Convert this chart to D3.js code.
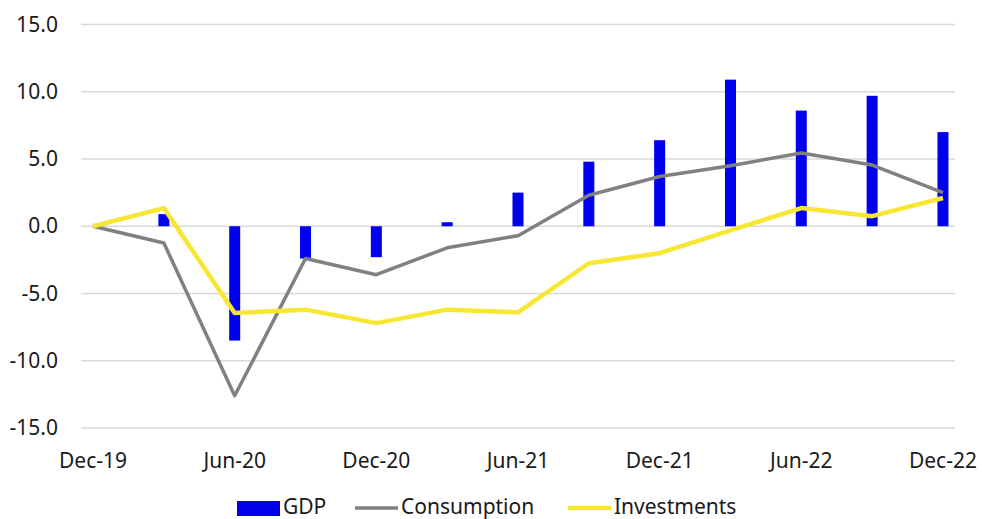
<!DOCTYPE html>
<html>
<head>
<meta charset="utf-8">
<script src="https://cdn.jsdelivr.net/npm/d3@7"></script>
<style>
  body { margin: 0; background: #fff; }
  text { font-family: "Noto Sans", sans-serif; fill: #1a1a1a; }
</style>
</head>
<body>
<svg id="chart" width="982" height="519"></svg>
<script>
// quarterly periods
var periods = ["Dec-19", "Mar-20", "Jun-20", "Sep-20", "Dec-20", "Mar-21", "Jun-21",
               "Sep-21", "Dec-21", "Mar-22", "Jun-22", "Sep-22", "Dec-22"];
var gdp = [0, 0.9, -8.5, -2.4, -2.3, 0.3, 2.5, 4.8, 6.4, 10.9, 8.6, 9.7, 7.0];
var consumption = [0, -1.25, -12.6, -2.4, -3.6, -1.6, -0.7, 2.3, 3.7, 4.5, 5.45, 4.55, 2.5];
var investments = [0, 1.35, -6.45, -6.2, -7.2, -6.2, -6.4, -2.75, -2.0, -0.3, 1.35, 0.75, 2.1];
var yTicks = [-15, -10, -5, 0, 5, 10, 15];
var xLabels = ["Dec-19", "Jun-20", "Dec-20", "Jun-21", "Dec-21", "Jun-22", "Dec-22"];

var svg = d3.select("#chart");
var plotLeft = 81, plotRight = 955, plotTop = 24.5, plotBottom = 428;

// x: index scale with a small pad on both sides
var xScale = d3.scaleLinear().domain([-0.17, periods.length - 1 + 0.17]).range([plotLeft, plotRight]);
var yScale = d3.scaleLinear().domain([-15, 15]).range([plotBottom, plotTop]);

// gridlines
svg.append("g").selectAll("line")
  .data(yTicks)
  .join("line")
  .attr("x1", plotLeft).attr("x2", plotRight)
  .attr("y1", d => yScale(d)).attr("y2", d => yScale(d))
  .attr("stroke", "#d9d9d9")
  .attr("stroke-width", 1.5);

// y axis labels (plain hyphen for negatives, like the source)
var yAxis = d3.axisLeft(yScale).tickValues(yTicks)
  .tickFormat(d => d.toFixed(1)).tickSize(0).tickPadding(0);
var gy = svg.append("g").attr("transform", "translate(58,0)").call(yAxis);
gy.select(".domain").remove();
gy.selectAll("text").style("font-size", "21px").attr("fill", "#1a1a1a").attr("font-family", "Noto Sans");

// x axis labels
svg.append("g").selectAll("text")
  .data(xLabels)
  .join("text")
  .attr("x", d => xScale(periods.indexOf(d)))
  .attr("y", 468)
  .attr("text-anchor", "middle")
  .style("font-size", "21px")
  .text(d => d);

// GDP bars
var barW = 11;
svg.append("g").selectAll("rect")
  .data(gdp)
  .join("rect")
  .attr("x", (d, i) => xScale(i) - barW / 2)
  .attr("width", barW)
  .attr("y", d => yScale(Math.max(d, 0)))
  .attr("height", d => Math.abs(yScale(d) - yScale(0)))
  .attr("fill", "#0000ee");

var line = d3.line().x((d, i) => xScale(i)).y(d => yScale(d));

svg.append("path")
  .datum(consumption)
  .attr("d", line)
  .attr("fill", "none")
  .attr("stroke", "#808080")
  .attr("stroke-width", 3.5)
  .attr("stroke-linejoin", "round");

svg.append("path")
  .datum(investments)
  .attr("d", line)
  .attr("fill", "none")
  .attr("stroke", "#f7e733")
  .attr("stroke-width", 4.5)
  .attr("stroke-linejoin", "round");

// legend
var lg = svg.append("g");
lg.append("rect").attr("x", 237).attr("y", 501).attr("width", 43).attr("height", 15).attr("fill", "#0000ee");
lg.append("text").attr("x", 283).attr("y", 514).style("font-size", "21px").text("GDP");
lg.append("line").attr("x1", 355).attr("x2", 398).attr("y1", 508).attr("y2", 508)
  .attr("stroke", "#808080").attr("stroke-width", 3.5);
lg.append("text").attr("x", 401).attr("y", 514).style("font-size", "21px").text("Consumption");
lg.append("line").attr("x1", 568).attr("x2", 611).attr("y1", 508).attr("y2", 508)
  .attr("stroke", "#f7e733").attr("stroke-width", 4.5);
lg.append("text").attr("x", 614).attr("y", 514).style("font-size", "21px").text("Investments");
</script>
</body>
</html>
